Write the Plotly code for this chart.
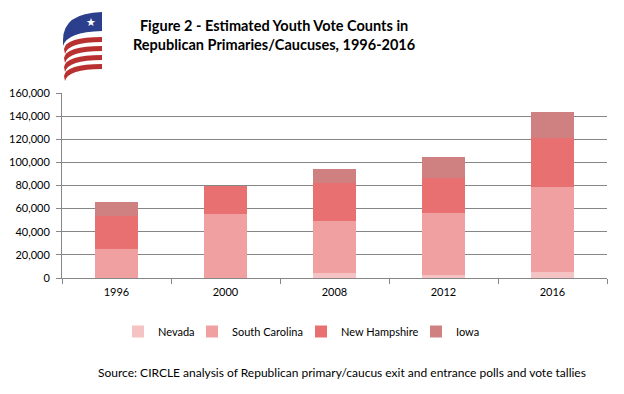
import plotly.graph_objects as go

years = ["1996", "2000", "2008", "2012", "2016"]
nevada = [0, 0, 4500, 2900, 5200]
south_carolina = [25000, 55600, 45000, 53300, 73800]
new_hampshire = [28800, 24300, 32900, 30600, 42400]
iowa = [11800, 0, 11900, 17900, 22200]
series_names = ["Nevada", "South Carolina", "New Hampshire", "Iowa"]
series_colors = ["#f5c3c3", "#f0a0a0", "#e97070", "#cf8080"]
y_ticks = [0, 20000, 40000, 60000, 80000, 100000, 120000, 140000, 160000]

# the page body adds an 8px margin; the figure is sized to fit the 624x394 window
OFF = 8
W, H = 624 - OFF, 394 - OFF
L, T = 62 - OFF, 93 - OFF
R, B = 17, 116
PW, PH = W - L - R, H - T - B
SX0, SY1 = 62, 278  # plot area left / bottom in window pixels


def px(x):
    return (x - SX0) / PW


def py(y):
    return (SY1 - y) / PH


fig = go.Figure()
legend_ids = ["legend", "legend2", "legend3", "legend4"]
for name, vals, col, lg in zip(series_names, [nevada, south_carolina, new_hampshire, iowa], series_colors, legend_ids):
    fig.add_trace(go.Bar(x=years, y=vals, name=name, legend=lg,
                         marker=dict(color=col, line=dict(width=0))))

shapes = []
# logo (decorative)
shapes.append(dict(type="path", xref="paper", yref="paper",
                   path=f"M {px(102)},{py(12)} Q {px(63)},{py(13)} {px(63)},{py(40)} L {px(63)},{py(46)} Q {px(67)},{py(32)} {px(102)},{py(31)} Z",
                   fillcolor="#2b3f8c", line=dict(width=0)))
for k in range(4):
    yt = 37 + 9 * k
    th = 5
    shapes.append(dict(type="path", xref="paper", yref="paper",
                       path=(f"M {px(102)},{py(yt)} Q {px(66)},{py(yt)} {px(64)},{py(yt + 12)} "
                             f"L {px(65)},{py(yt + 12 + th)} Q {px(68)},{py(yt + th)} {px(102)},{py(yt + th)} Z"),
                       fillcolor="#b8302f", line=dict(width=0)))
fig.update_layout(shapes=shapes)

fig.add_annotation(x=px(91), y=py(21), xref="paper", yref="paper", text="★", showarrow=False,
                   font=dict(color="white", size=11), xanchor="center", yanchor="middle")

fig.add_annotation(x=px(274), xref="paper", y=py(35), yref="paper",
                   text="<b>Figure 2 - Estimated Youth Vote Counts in<br>Republican Primaries/Caucuses, 1996-2016</b>",
                   showarrow=False, font=dict(family="Lato", size=14.5, color="black"),
                   xanchor="center", yanchor="middle", align="center")

fig.add_annotation(x=px(588), xref="paper", y=py(372), yref="paper",
                   text="Source: CIRCLE analysis of Republican primary/caucus exit and entrance polls and vote tallies",
                   showarrow=False, font=dict(family="Lato", size=12, color="black"),
                   xanchor="right", yanchor="middle")

legend_text_x = [155, 229, 338, 453]
legend_cfg = {}
for lg, tx in zip(legend_ids, legend_text_x):
    legend_cfg[lg] = dict(orientation="h", x=px(tx - 37), xanchor="left", y=py(317), yanchor="top",
                          font=dict(size=11, family="Lato"), itemwidth=30,
                          bgcolor="rgba(0,0,0,0)")

fig.update_layout(
    width=W, height=H,
    margin=dict(l=L, r=R, t=T, b=B, autoexpand=False),
    paper_bgcolor="white", plot_bgcolor="white",
    barmode="stack", bargap=0.6,
    font=dict(family="Lato", size=11, color="black"),
    showlegend=True,
    **legend_cfg,
    xaxis=dict(type="category", showgrid=False, showline=True, linecolor="#868686", linewidth=1,
               ticks="outside", tickson="boundaries", ticklen=5, tickcolor="#868686",
               ticklabelstandoff=4, tickfont=dict(size=11)),
    yaxis=dict(range=[0, 160000], tickvals=y_ticks, tickformat=",", showgrid=True,
               gridcolor="#868686", gridwidth=1, showline=True, linecolor="#868686", linewidth=1,
               ticks="outside", ticklen=5, tickcolor="#868686", zeroline=False,
               ticklabelstandoff=4, tickfont=dict(size=11)),
)

fig.write_html("out.html")
